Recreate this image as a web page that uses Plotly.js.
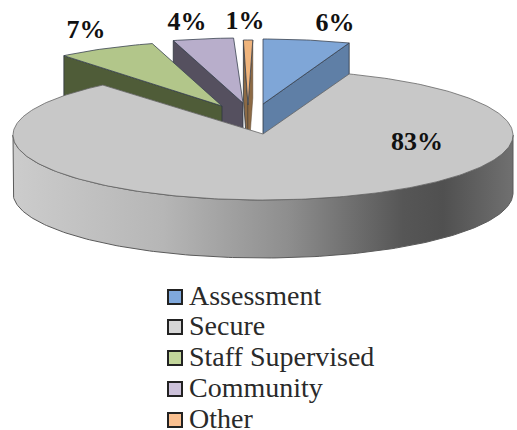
<!DOCTYPE html>
<html><head><meta charset="utf-8">
<script src="https://cdn.plot.ly/plotly-3.0.1.min.js"></script>
<style>html,body{margin:0;padding:0;background:#fff}#c{width:517px;height:430px}</style>
</head><body><div id="c"></div>
<script>
// Data
const categories = ['Assessment','Secure','Staff Supervised','Community','Other'];
const values = [5.6, 83.5, 6.4, 3.9, 0.6];
const labels = ['6%','83%','7%','4%','1%'];
// Styles
const topColors = ['#7fa6d7','#c8c8c8','#b2c68a','#b8aecb','#f0b47c'];
const wallColors = ['#5f7fa6','#888888','#4f5c38','#55505f','#8c6a45'];
const swatchColors = ['#7fa8dc','#d6d6d6','#c3d69b','#ccc1da','#fac090'];
// Geometry (pixel-scaled axes)
const CX = 263, CY = 135, RX = 250, RY = 65, DEPTH = 58;
const apexes = [[263,104],[263,134],[222,106],[243,103],[248,105]];
const angleNudge = [0,0,0,0,1.1];
const drawOrder = [3,4,2,0];
const labelX = [335,417,86,187,245];
const labelY = [24,143,31,23,22];
const legendX = 175, legendTextX = 189, legendYs = [297,327,358,389,420];

const rad = d => d*Math.PI/180;
const total = values.reduce((a,b)=>a+b,0);
let acc = 0;
const spans = values.map((v,i)=>{const s=acc; acc+=v/total*360; return [s+angleNudge[i],acc+angleNudge[i]];});
const onRim = (a,t)=>[a[0]+RX*Math.sin(rad(t)), a[1]-RY*Math.cos(rad(t))];
function sector(i){
  const a=apexes[i], xs=[a[0]], ys=[a[1]];
  for(let t=spans[i][0];t<spans[i][1];t+=1){const p=onRim(a,t);xs.push(p[0]);ys.push(p[1]);}
  const e=onRim(a,spans[i][1]);xs.push(e[0],a[0]);ys.push(e[1],a[1]);
  return {xs,ys};
}
function poly(xs,ys,fill,line,w,extra){
  return Object.assign({type:'scatter',mode:'lines',x:xs,y:ys,fill:'toself',fillcolor:fill,
    line:{color:line,width:w},hoverinfo:'skip',showlegend:false},extra||{});
}
const traces=[];
drawOrder.forEach(i=>{
  const a=apexes[i];
  const t = i===0 ? spans[i][1] : spans[i][0];
  const p=onRim(a,t);
  traces.push(poly([a[0],p[0],p[0],a[0],a[0]],[a[1],p[1],p[1]+DEPTH,a[1]+DEPTH,a[1]],wallColors[i],'#2f3640',0.8));
  if(i===4){
    const q=onRim(a,spans[i][1]);
    traces.push(poly([a[0],q[0],q[0],a[0],a[0]],[a[1],q[1],q[1]+DEPTH,a[1]+DEPTH,a[1]],wallColors[i],'#5a4630',0.5));
  }
  const s=sector(i);
  traces.push(poly(s.xs,s.ys,topColors[i],'#3a4350',0.8,{name:categories[i]}));
});
// Main slice rim wall, with its horizontal shading
const wx=[],wy=[];
for(let t=90;t<=270;t+=1){const p=onRim([CX,CY],t);wx.push(p[0]);wy.push(p[1]);}
for(let t=270;t>=90;t-=1){const p=onRim([CX,CY],t);wx.push(p[0]);wy.push(p[1]+DEPTH);}
wx.push(wx[0]);wy.push(wy[0]);
traces.push({type:'scatter',mode:'lines',x:wx,y:wy,fill:'toself',
  fillgradient:{type:'horizontal',colorscale:[[0,'#cccccc'],[0.3,'#b6b6b6'],[0.55,'#8e8e8e'],[0.78,'#565656'],[0.86,'#505050'],[1,'#707070']]},
  line:{color:'#5a5a5a',width:1},hoverinfo:'skip',showlegend:false});
// Main slice top
const gray=(()=>{const a=[CX,CY-1],xs=[a[0]],ys=[a[1]];
  for(let t=spans[1][0];t<=spans[1][1];t+=1){const p=onRim([CX,CY],t);xs.push(p[0]);ys.push(p[1]);}
  xs.push(a[0]);ys.push(a[1]);return{xs,ys};})();
traces.push(poly(gray.xs,gray.ys,topColors[1],'#666666',0.8,{name:categories[1]}));
// Data labels
traces.push({type:'scatter',mode:'text',x:labelX,y:labelY,text:labels,textposition:'middle center',
  textfont:{family:'"Liberation Serif",serif',size:26,color:'#111111',weight:700},hoverinfo:'skip',showlegend:false});
// Legend rows
traces.push({type:'scatter',mode:'markers',x:categories.map(()=>legendX),y:legendYs,
  marker:{symbol:'square',size:14,color:swatchColors,line:{color:'#222222',width:2}},hoverinfo:'skip',showlegend:false});
traces.push({type:'scatter',mode:'text',x:categories.map(()=>legendTextX),y:legendYs.map(v=>v+1),text:categories,
  textposition:'middle right',textfont:{family:'"Liberation Serif",serif',size:28,color:'#2a2a2a'},
  hoverinfo:'skip',showlegend:false,cliponaxis:false});

Plotly.newPlot('c',traces,{
  width:517,height:430,margin:{l:0,r:0,t:0,b:0},paper_bgcolor:'#fff',plot_bgcolor:'#fff',showlegend:false,
  xaxis:{range:[0,517],visible:false,fixedrange:true},
  yaxis:{range:[430,0],visible:false,fixedrange:true}
},{staticPlot:true,displayModeBar:false});
</script></body></html>
